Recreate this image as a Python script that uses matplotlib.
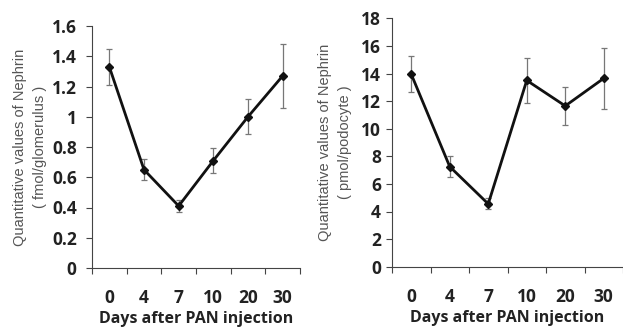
import matplotlib.pyplot as plt

days = ["0", "4", "7", "10", "20", "30"]

# left panel: fmol/glomerulus
glom_mean = [1.33, 0.65, 0.41, 0.71, 1.00, 1.27]
glom_err = [0.12, 0.07, 0.04, 0.085, 0.115, 0.21]
glom_ticks = [0, 0.2, 0.4, 0.6, 0.8, 1, 1.2, 1.4, 1.6]
glom_ticklabels = ["0", "0.2", "0.4", "0.6", "0.8", "1", "1.2", "1.4", "1.6"]

# right panel: pmol/podocyte
podo_mean = [13.95, 7.25, 4.55, 13.5, 11.65, 13.65]
podo_err = [1.3, 0.75, 0.4, 1.65, 1.35, 2.2]
podo_ticks = [0, 2, 4, 6, 8, 10, 12, 14, 16, 18]
podo_ticklabels = ["0", "2", "4", "6", "8", "10", "12", "14", "16", "18"]

W, H = 623, 329
fig = plt.figure(figsize=(W / 100, H / 100), dpi=100)

tick_font = dict(family="Open Sans", weight="bold", size=12.5, color="#222222")
xlab_font = dict(family="Open Sans", weight="bold", size=11.5, color="#222222")
lab_font = dict(family="Liberation Sans", size=10.5, color="#555555")


def panel(rect, mean, err, ticks, ticklabels, ylim, ylabel, ypad, ylab_x):
    l, t, r, b = rect
    ax = fig.add_axes([l / W, 1 - b / H, (r - l) / W, (b - t) / H])
    x = list(range(len(days)))
    ax.errorbar(x, mean, yerr=err, fmt="none", ecolor="#777777",
                elinewidth=0.9, capsize=2.2, capthick=0.9, zorder=2)
    ax.plot(x, mean, color="#111111", lw=2.0, marker="D", ms=4.5, zorder=3)
    ax.set_xlim(-0.5, len(days) - 0.5)
    ax.set_ylim(*ylim)
    ax.set_xticks([i - 0.5 for i in range(len(days) + 1)])
    ax.set_xticklabels([])
    ax.set_xticks(x, minor=True)
    ax.set_xticklabels(days, minor=True, **tick_font)
    ax.tick_params(axis="x", which="major", direction="out", length=4,
                   width=0.8, color="#444444")
    ax.tick_params(axis="x", which="minor", length=0, pad=15)
    ax.set_yticks(ticks)
    ax.set_yticklabels(ticklabels, **tick_font)
    ax.tick_params(axis="y", direction="out", length=4, width=0.8,
                   color="#444444", pad=ypad)
    for s in ["top", "right"]:
        ax.spines[s].set_visible(False)
    for s in ["left", "bottom"]:
        ax.spines[s].set_color("#444444")
        ax.spines[s].set_linewidth(0.8)
    ax.set_xlabel("Days after PAN injection", labelpad=3, **xlab_font)
    fig.text(ylab_x / W, 1 - (t + b) / 2 / H, ylabel, rotation=90,
             ha="center", va="center", linespacing=1.5, **lab_font)
    return ax


panel((92, 26, 300, 268), glom_mean, glom_err, glom_ticks, glom_ticklabels,
      (0, 1.6), "Quantitative values of Nephrin\n( fmol/glomerulus )", 7, 30)
panel((392, 18.3, 623, 266.7), podo_mean, podo_err, podo_ticks, podo_ticklabels,
      (0, 18), "Quantitative values of Nephrin\n( pmol/podocyte )", 4, 335)

fig.savefig("out.png", dpi=100)
